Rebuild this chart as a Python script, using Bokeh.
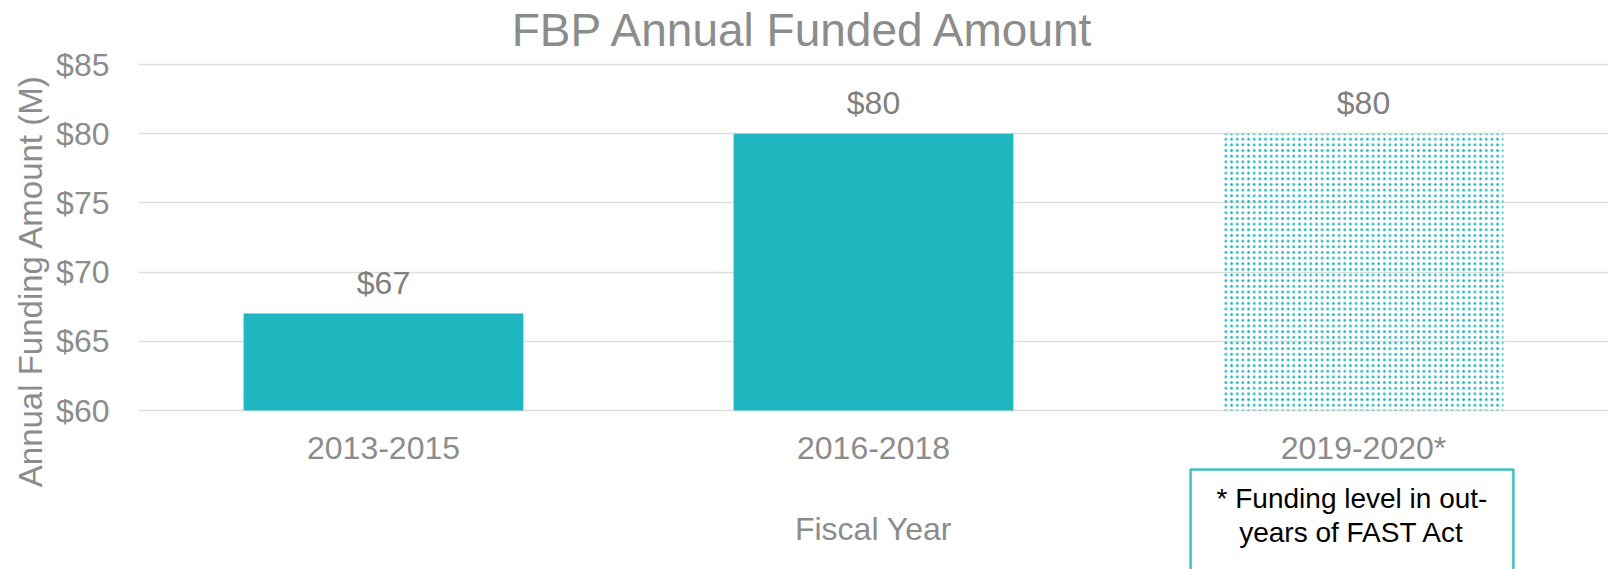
import math
from bokeh.plotting import figure
from bokeh.models import (ColumnDataSource, Range1d, FixedTicker, PrintfTickFormatter,
                          Label, Title)
from bokeh.core.properties import value
from bokeh.embed import file_html
from bokeh.resources import INLINE

# ---- data ----
categories = ["2013-2015", "2016-2018", "2019-2020*"]
funding = [67, 80, 80]
value_labels = ["$67", "$80", "$80"]
projected = [False, False, True]
y_ticks = [60, 65, 70, 75, 80, 85]

TEAL = "#1fb7bf"
GREY = "#8c8c8c"
FONT = "Liberation Sans"

W, H = 1608, 569
FL, FR, FT = 138, 1608, 0            # frame edges (px)
PX60, PX85 = 410, 64                 # pixel rows of the $60 and $85 gridlines
Y0, Y1 = 60, 85
UNIT = (PX60 - PX85) / (Y1 - Y0)     # px per $1M

def yd(py):
    return Y0 + (PX60 - py) / UNIT

def xd(px):
    return (px - FL) / (FR - FL) * len(categories)

p = figure(x_range=categories, y_range=Range1d(yd(H), yd(FT)), width=W, height=H,
           min_border_left=FL, min_border_right=W - FR, min_border_top=FT,
           min_border_bottom=0, output_backend="svg", toolbar_location=None)
p.outline_line_color = None
p.background_fill_color = "white"
p.border_fill_color = "white"

solid = ColumnDataSource(dict(
    x=[c for c, pr in zip(categories, projected) if not pr],
    top=[v for v, pr in zip(funding, projected) if not pr]))
proj = ColumnDataSource(dict(
    x=[c for c, pr in zip(categories, projected) if pr],
    top=[v for v, pr in zip(funding, projected) if pr]))

p.vbar(x="x", top="top", bottom=Y0, width=0.571, source=solid,
       fill_color=TEAL, line_color=None)
p.vbar(x="x", top="top", bottom=Y0, width=0.571, source=proj,
       fill_color=None, line_color=None, hatch_pattern="dot",
       hatch_color=TEAL, hatch_scale=5.66, hatch_weight=2)

lab_src = ColumnDataSource(dict(x=categories, y=funding, t=value_labels))
p.text(x="x", y="y", text="t", source=lab_src, text_align="center",
       text_baseline="middle", y_offset=-31, text_font=value(FONT),
       text_font_size="32px", text_color="#808080")

# category labels under the bars
cat_src = ColumnDataSource(dict(x=categories, y=[Y0] * len(categories), t=categories))
p.text(x="x", y="y", text="t", source=cat_src, text_align="center",
       text_baseline="middle", y_offset=37, text_font=value(FONT),
       text_font_size="32px", text_color=GREY)

# axes
p.xaxis.visible = False
p.xgrid.grid_line_color = None
p.ygrid.grid_line_color = "#dedede"
p.ygrid.grid_line_width = 1.5
p.yaxis.ticker = FixedTicker(ticks=y_ticks)
p.yaxis.formatter = PrintfTickFormatter(format="$%d")
ax = p.yaxis[0]
ax.axis_line_color = None
ax.major_tick_line_color = None
ax.minor_tick_line_color = None
ax.major_label_text_font = FONT
ax.major_label_text_font_size = "32px"
ax.major_label_text_color = GREY
ax.major_label_standoff = 23

# x-axis title
p.add_layout(Label(x=len(categories) / 2, y=yd(528), text="Fiscal Year",
                   text_align="center", text_baseline="middle",
                   text_font=FONT, text_font_size="32px", text_color=GREY))

# chart title
p.add_layout(Label(x=xd(804), y=yd(29), text="FBP Annual Funded Amount",
                   text_align="center", text_baseline="middle",
                   text_font=FONT, text_font_size="46px", text_color=GREY))

# y-axis title
p.add_layout(Title(text="Annual Funding Amount (M)", align="right", offset=74,
                   text_font=FONT, text_font_size="33px", text_font_style="normal",
                   text_color=GREY), "left")

# note box
p.add_layout(Label(x=xd(1351.5), y=yd(469),
                   text="* Funding level in out-\nyears of FAST Act",
                   text_align="center", text_baseline="top",
                   text_font=FONT, text_font_size="28px", text_color="black",
                   text_line_height=1.12,
                   border_line_color="#3fc0c5", border_line_width=2.5,
                   background_fill_color="white",
                   padding=dict(left=26, right=26, top=13, bottom=80)))

open("out.html", "w").write(file_html(p, INLINE))
